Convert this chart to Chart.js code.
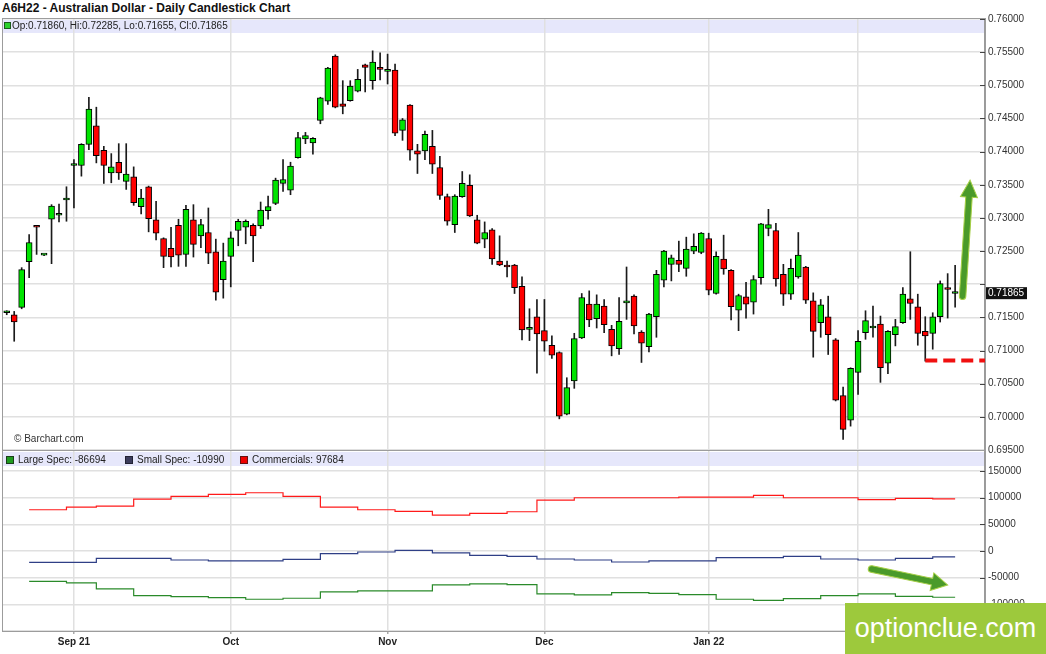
<!DOCTYPE html>
<html>
<head>
<meta charset="utf-8">
<title>A6H22 - Australian Dollar - Daily Candlestick Chart</title>
<script src="https://cdn.jsdelivr.net/npm/chart.js@4.4.1/dist/chart.umd.min.js"></script>
<style>
  html, body { margin: 0; padding: 0; background: #fff; }
  body { width: 1046px; height: 654px; position: relative; overflow: hidden; font-family: Arial, "Liberation Sans", sans-serif; }
  #title { position: absolute; left: 2px; top: 1px; font-weight: bold; font-size: 12px; color: #111; white-space: nowrap; }
  #priceChart { position: absolute; left: 0; top: 0; }
  #cotChart { position: absolute; left: 0; top: 439px; }
  #brand { position: absolute; left: 845px; top: 603px; width: 201px; height: 51px; background: #9dc93c; color: #fff; font-size: 27px; line-height: 51px; text-align: center; }
</style>
</head>
<body>
<div id="title">A6H22 - Australian Dollar - Daily Candlestick Chart</div>
<canvas id="priceChart" width="1046" height="462"></canvas>
<canvas id="cotChart" width="1046" height="215"></canvas>
<div id="brand">optionclue.com</div>
<script>
// daily candles, 19 Aug 2021 .. 18 Feb 2022 (index = trading day)
const opens = [
  0.7157, 0.7154, 0.7165, 0.7234, 0.7287, 0.7244, 0.7298, 0.7304, 0.7327, 0.7379,
  0.7379, 0.7411, 0.7439, 0.7402, 0.7368, 0.7384, 0.7355, 0.7362, 0.7317, 0.7347,
  0.7297, 0.7269, 0.7254, 0.7289, 0.7245, 0.7297, 0.7273, 0.7278, 0.7249, 0.7207,
  0.7242, 0.7281, 0.7286, 0.7289, 0.7288, 0.7311, 0.7322, 0.7352, 0.7342, 0.7391,
  0.7419, 0.7413, 0.7447, 0.7476, 0.7544, 0.7472, 0.7477, 0.7491, 0.7531, 0.7507,
  0.7527, 0.7521, 0.7523, 0.7432, 0.7470, 0.7401, 0.7401, 0.7408, 0.7376, 0.7332,
  0.7290, 0.7332, 0.7349, 0.7297, 0.7268, 0.7282, 0.7235, 0.7228, 0.7229, 0.7197,
  0.7132, 0.7151, 0.7130, 0.7108, 0.7097, 0.7004, 0.7054, 0.7119, 0.7170, 0.7148,
  0.7167, 0.7132, 0.7103, 0.7172, 0.7182, 0.7128, 0.7106, 0.7151, 0.7206, 0.7230,
  0.7236, 0.7224, 0.7250, 0.7248, 0.7269, 0.7186, 0.7238, 0.7221, 0.7161, 0.7181,
  0.7173, 0.7210, 0.7284, 0.7281, 0.7215, 0.7185, 0.7211, 0.7226, 0.7175, 0.7142,
  0.7151, 0.7116, 0.7032, 0.6995, 0.7067, 0.7127, 0.7134, 0.7140, 0.7081, 0.7124,
  0.7142, 0.7178, 0.7166, 0.7129, 0.7126, 0.7151, 0.7195, 0.71860
];
const highs = [
  0.7160, 0.7159, 0.7225, 0.7275, 0.7288, 0.7245, 0.7320, 0.7321, 0.7347, 0.7388,
  0.7412, 0.7482, 0.7467, 0.7408, 0.7397, 0.7412, 0.7412, 0.7377, 0.7343, 0.7348,
  0.7325, 0.7270, 0.7286, 0.7298, 0.7319, 0.7320, 0.7298, 0.7315, 0.7268, 0.7262,
  0.7279, 0.7298, 0.7297, 0.7291, 0.7324, 0.7333, 0.7360, 0.7388, 0.7384, 0.7429,
  0.7429, 0.7421, 0.7482, 0.7527, 0.7546, 0.7507, 0.7507, 0.7524, 0.7532, 0.7552,
  0.7549, 0.7547, 0.7532, 0.7450, 0.7471, 0.7411, 0.7431, 0.7432, 0.7393, 0.7336,
  0.7335, 0.7370, 0.7365, 0.7304, 0.7294, 0.7284, 0.7273, 0.7235, 0.7230, 0.7211,
  0.7163, 0.7177, 0.7177, 0.7122, 0.7098, 0.7059, 0.7126, 0.7186, 0.7190, 0.7184,
  0.7177, 0.7138, 0.7180, 0.7226, 0.7184, 0.7130, 0.7156, 0.7221, 0.7251, 0.7244,
  0.7265, 0.7271, 0.7276, 0.7278, 0.7277, 0.7249, 0.7274, 0.7222, 0.7185, 0.7203,
  0.7213, 0.7292, 0.7313, 0.7292, 0.7230, 0.7238, 0.7278, 0.7227, 0.7187, 0.7177,
  0.7182, 0.7118, 0.7045, 0.7074, 0.7130, 0.7160, 0.7167, 0.7152, 0.7130, 0.7147,
  0.7195, 0.7249, 0.7185, 0.7151, 0.7157, 0.7205, 0.7216, 0.72285
];
const lows = [
  0.7154, 0.7114, 0.7163, 0.7210, 0.7245, 0.7243, 0.7231, 0.7294, 0.7295, 0.7315,
  0.7363, 0.7403, 0.7383, 0.7352, 0.7353, 0.7358, 0.7343, 0.7319, 0.7306, 0.7279,
  0.7267, 0.7225, 0.7226, 0.7227, 0.7227, 0.7241, 0.7255, 0.7231, 0.7176, 0.7179,
  0.7196, 0.7258, 0.7261, 0.7234, 0.7284, 0.7298, 0.7320, 0.7340, 0.7335, 0.7390,
  0.7412, 0.7396, 0.7442, 0.7471, 0.7466, 0.7457, 0.7476, 0.7490, 0.7490, 0.7494,
  0.7508, 0.7502, 0.7424, 0.7417, 0.7387, 0.7367, 0.7388, 0.7367, 0.7328, 0.7289,
  0.7278, 0.7331, 0.7302, 0.7261, 0.7255, 0.7230, 0.7228, 0.7211, 0.7186, 0.7116,
  0.7115, 0.7066, 0.7099, 0.7088, 0.6997, 0.7003, 0.7043, 0.7118, 0.7136, 0.7134,
  0.7127, 0.7092, 0.7094, 0.7147, 0.7125, 0.7082, 0.7098, 0.7120, 0.7196, 0.7205,
  0.7219, 0.7212, 0.7246, 0.7246, 0.7184, 0.7185, 0.7215, 0.7146, 0.7130, 0.7149,
  0.7155, 0.7200, 0.7273, 0.7197, 0.7168, 0.7177, 0.7209, 0.7171, 0.7090, 0.7120,
  0.7094, 0.7024, 0.6966, 0.6986, 0.7034, 0.7117, 0.7120, 0.7052, 0.7065, 0.7107,
  0.7141, 0.7147, 0.7108, 0.7084, 0.7102, 0.7143, 0.7149, 0.71655
];
const closes = [
  0.7157, 0.7143, 0.7222, 0.7263, 0.7286, 0.7244, 0.7318, 0.7304, 0.7327, 0.7379,
  0.7411, 0.7464, 0.7394, 0.7379, 0.7377, 0.7368, 0.7366, 0.7323, 0.7330, 0.7299,
  0.7277, 0.7242, 0.7241, 0.7244, 0.7313, 0.7260, 0.7290, 0.7247, 0.7188, 0.7235,
  0.7270, 0.7295, 0.7295, 0.7273, 0.7312, 0.7317, 0.7357, 0.7358, 0.7378, 0.7421,
  0.7424, 0.7420, 0.7481, 0.7526, 0.7467, 0.7468, 0.7499, 0.7509, 0.7527, 0.7535,
  0.7524, 0.7521, 0.7428, 0.7448, 0.7402, 0.7396, 0.7426, 0.7381, 0.7334, 0.7295,
  0.7333, 0.7352, 0.7303, 0.7262, 0.7278, 0.7238, 0.7229, 0.7226, 0.7195, 0.7131,
  0.7132, 0.7125, 0.7114, 0.7093, 0.7001, 0.7044, 0.7118, 0.7180, 0.7146, 0.7170,
  0.7139, 0.7107, 0.7144, 0.7172, 0.7137, 0.7111, 0.7155, 0.7215, 0.7250, 0.7240,
  0.7230, 0.7253, 0.7257, 0.7277, 0.7191, 0.7242, 0.7223, 0.7166, 0.7183, 0.7170,
  0.7207, 0.7291, 0.7290, 0.7208, 0.7185, 0.7224, 0.7244, 0.7176, 0.7129, 0.7169,
  0.7124, 0.7025, 0.6981, 0.7073, 0.7114, 0.7145, 0.7134, 0.7074, 0.7129, 0.7136,
  0.7185, 0.7171, 0.7126, 0.7122, 0.7151, 0.7201, 0.7192, 0.71865
];

// month starts (candle index) and their labels
const monthIdx = [9, 30, 51, 72, 94, 114];
const monthLabels = ["Sep 21", "Oct", "Nov", "Dec", "Jan 22", "Feb"];

const priceTicks = [0.695, 0.700, 0.705, 0.710, 0.715, 0.720, 0.725, 0.730, 0.735, 0.740, 0.745, 0.750, 0.755, 0.760];
const cotTicks = [-150000, -100000, -50000, 0, 50000, 100000, 150000];

// weekly COT positions, value holds from that candle index on
const cotIdx = [3, 8, 12, 17, 22, 27, 32, 37, 42, 47, 52, 57, 62, 67, 71, 76, 81, 86, 90, 95, 100, 104, 109, 114, 119, 124, 127];
const largeSpec = [-56800, -59900, -71200, -83700, -85600, -87500, -90500, -88600, -76800, -74900, -74900, -63700, -61800, -63000,
  -80500, -82400, -78100, -79300, -81800, -90500, -92400, -89300, -83700, -80500, -84900, -86694, -86694];
const smallSpec = [-21200, -21200, -13700, -13700, -16900, -18700, -18700, -15600, -5000, -1900, 1300, -3700, -8100, -10000,
  -15000, -16900, -20600, -18700, -18700, -12500, -12500, -10000, -15000, -16900, -13700, -10990, -10990];
const commercials = [77350, 82400, 84300, 97400, 102500, 106200, 109200, 102500, 82400, 77350, 74350, 67400, 70600, 73600,
  95500, 99800, 99800, 99800, 101100, 101100, 104300, 99800, 99800, 96500, 98500, 97684, 97684];

// hand drawn marks on the picture
const supportLevel = 0.7085, supportFrom = 123;
const upArrow = { from: [128, 0.7182], to: [129, 0.7357] };
const cotArrow = { from: [115.8, -33700], to: [126, -63700] };

const UP = "#00e400", DOWN = "#ff0000", BAND = "#e6e7fb", GRID = "#e0e0e0";
const FONT = 'Arial, "Liberation Sans", sans-serif';
const X_MIN = -0.5, X_MAX = 131;

Chart.defaults.font.family = FONT;
Chart.defaults.font.size = 10;
Chart.defaults.color = "#333";

function drawArrow(ctx, x1, y1, x2, y2, shaft, headW, headL) {
  const ang = Math.atan2(y2 - y1, x2 - x1);
  const len = Math.hypot(x2 - x1, y2 - y1);
  ctx.save();
  ctx.translate(x1, y1);
  ctx.rotate(ang);
  ctx.beginPath();
  ctx.moveTo(0, -shaft / 2);
  ctx.lineTo(len - headL, -shaft / 2);
  ctx.lineTo(len - headL, -headW / 2);
  ctx.lineTo(len, 0);
  ctx.lineTo(len - headL, headW / 2);
  ctx.lineTo(len - headL, shaft / 2);
  ctx.lineTo(0, shaft / 2);
  ctx.arc(0, 0, shaft / 2, Math.PI / 2, Math.PI * 1.5);
  ctx.closePath();
  ctx.fillStyle = "#4a9a2a";
  ctx.fill();
  ctx.strokeStyle = "#a6cf45";
  ctx.lineWidth = 1;
  ctx.stroke();
  ctx.restore();
}

function tickDashes(ctx, a, scale) {
  ctx.strokeStyle = "#444";
  ctx.lineWidth = 1;
  ctx.beginPath();
  scale.ticks.forEach(t => {
    const py = Math.round(scale.getPixelForValue(t.value)) + 0.5;
    ctx.moveTo(a.right - 5, py);
    ctx.lineTo(a.right, py);
  });
  ctx.stroke();
}

function panelBorder(ctx, a) {
  ctx.strokeStyle = "#9c9c9c";
  ctx.lineWidth = 1;
  ctx.strokeRect(a.left - 0.5, a.top - 0.5, a.right - a.left + 1, a.bottom - a.top + 1);
}

const pricePanel = {
  id: "pricePanel",
  beforeDraw(chart) {
    const { ctx, chartArea: a } = chart;
    ctx.save();
    ctx.fillStyle = BAND;
    ctx.fillRect(a.left, a.top + 1, a.right - a.left, 13);
    ctx.restore();
  },
  afterDraw(chart) {
    const { ctx, chartArea: a, scales: { x, y } } = chart;
    const last = closes.length - 1;
    ctx.save();
    panelBorder(ctx, a);
    tickDashes(ctx, a, y);

    // legend line in the band
    ctx.fillStyle = "#2bd12b";
    ctx.fillRect(a.left + 2, a.top + 4, 5, 5);
    ctx.strokeStyle = "#1c5a1c";
    ctx.strokeRect(a.left + 1.5, a.top + 3.5, 6, 6);
    ctx.font = "10px " + FONT;
    ctx.fillStyle = "#222";
    ctx.textAlign = "left";
    ctx.textBaseline = "middle";
    ctx.fillText("Op:" + opens[last].toFixed(5) + ", Hi:" + highs[last].toFixed(5) +
      ", Lo:" + lows[last].toFixed(5) + ", Cl:" + closes[last].toFixed(5), a.left + 9, a.top + 7.5);

    ctx.fillStyle = "#333";
    ctx.fillText("\u00a9 Barchart.com", a.left + 11, a.bottom - 11);

    // support line
    const sy = y.getPixelForValue(supportLevel);
    ctx.strokeStyle = "#f01010";
    ctx.lineWidth = 4;
    ctx.setLineDash([12, 6]);
    ctx.beginPath();
    ctx.moveTo(x.getPixelForValue(supportFrom), sy);
    ctx.lineTo(a.right, sy);
    ctx.stroke();
    ctx.setLineDash([]);

    drawArrow(ctx,
      x.getPixelForValue(upArrow.from[0]), y.getPixelForValue(upArrow.from[1]),
      x.getPixelForValue(upArrow.to[0]), y.getPixelForValue(upArrow.to[1]), 6.5, 17, 17);

    // last price tag
    const py = y.getPixelForValue(closes[last]);
    ctx.fillStyle = "#111";
    ctx.fillRect(a.right + 1, py - 6, 41, 12);
    ctx.fillStyle = "#fff";
    ctx.fillText(closes[last].toFixed(5), a.right + 3, py);
    ctx.restore();
  }
};

const cotPanel = {
  id: "cotPanel",
  beforeDraw(chart) {
    const { ctx, chartArea: a } = chart;
    ctx.save();
    ctx.fillStyle = BAND;
    ctx.fillRect(a.left, a.top + 1, a.right - a.left, 14);
    ctx.restore();
  },
  afterDraw(chart) {
    const { ctx, chartArea: a, scales: { x, y } } = chart;
    const last = cotIdx.length - 1;
    ctx.save();
    panelBorder(ctx, a);
    tickDashes(ctx, a, y);

    const items = [
      { text: "Large Spec: " + largeSpec[last], fill: "#1f9a1f", edge: "#1b3d1b", left: 4 },
      { text: "Small Spec: " + smallSpec[last], fill: "#3c3c5c", edge: "#222233", left: 123 },
      { text: "Commercials: " + commercials[last], fill: "#ee0000", edge: "#661111", left: 238 }
    ];
    ctx.font = "10px " + FONT;
    ctx.textAlign = "left";
    ctx.textBaseline = "middle";
    items.forEach(it => {
      ctx.fillStyle = it.fill;
      ctx.fillRect(a.left + it.left, a.top + 6, 6, 6);
      ctx.strokeStyle = it.edge;
      ctx.lineWidth = 1;
      ctx.strokeRect(a.left + it.left - 0.5, a.top + 5.5, 7, 7);
      ctx.fillStyle = "#222";
      ctx.fillText(it.text, a.left + it.left + 11, a.top + 9);
    });

    drawArrow(ctx,
      x.getPixelForValue(cotArrow.from[0]), y.getPixelForValue(cotArrow.from[1]),
      x.getPixelForValue(cotArrow.to[0]), y.getPixelForValue(cotArrow.to[1]), 6.5, 18, 16);
    ctx.restore();
  }
};

const candleIdx = closes.map((_, i) => i);
const bodyColors = closes.map((c, i) => (c >= opens[i] ? UP : DOWN));

new Chart(document.getElementById("priceChart"), {
  type: "bar",
  data: {
    datasets: [
      {
        label: "Body",
        data: candleIdx.map(i => ({ x: i, y: [opens[i], closes[i]] })),
        backgroundColor: bodyColors,
        borderColor: "#000",
        borderWidth: 1,
        borderSkipped: false,
        barThickness: 6,
        minBarLength: 2,
        grouped: false,
        order: 1
      },
      {
        label: "Range",
        data: candleIdx.map(i => ({ x: i, y: [lows[i], highs[i]] })),
        backgroundColor: "#1a1a1a",
        barThickness: 1,
        grouped: false,
        order: 2
      }
    ]
  },
  options: {
    responsive: false,
    animation: false,
    layout: { padding: { left: 3, right: 0, top: 19, bottom: 12 } },
    plugins: { legend: { display: false }, tooltip: { enabled: false } },
    scales: {
      x: {
        type: "linear",
        min: X_MIN,
        max: X_MAX,
        offset: false,
        afterBuildTicks: s => { s.ticks = monthIdx.map(v => ({ value: v })); },
        ticks: { display: false },
        grid: { color: GRID, lineWidth: 1.5, drawTicks: false, offset: false },
        border: { display: false }
      },
      y: {
        position: "right",
        min: 0.695,
        max: 0.76,
        afterBuildTicks: s => { s.ticks = priceTicks.map(v => ({ value: v })); },
        afterFit: s => { s.width = 61; },
        ticks: {
          padding: 3,
          color: "#333",
          font: { size: 10 },
          callback: v => (Math.abs(v - 0.72) < 1e-7 ? "" : v.toFixed(5))
        },
        grid: { color: GRID, lineWidth: 1.5, drawTicks: false },
        border: { display: true, color: "#9a9a9a", width: 1.5 }
      }
    }
  },
  plugins: [pricePanel]
});

const cotLine = vals => cotIdx.map((v, i) => ({ x: v, y: vals[i] }));

new Chart(document.getElementById("cotChart"), {
  type: "line",
  data: {
    datasets: [
      { label: "Commercials", data: cotLine(commercials), borderColor: "#ff1a1a", borderWidth: 1.2, pointRadius: 0, stepped: "before", fill: false },
      { label: "Small Spec", data: cotLine(smallSpec), borderColor: "#2f3f86", borderWidth: 1.2, pointRadius: 0, stepped: "before", fill: false },
      { label: "Large Spec", data: cotLine(largeSpec), borderColor: "#2a8a2a", borderWidth: 1.2, pointRadius: 0, stepped: "before", fill: false }
    ]
  },
  options: {
    responsive: false,
    animation: false,
    layout: { padding: { left: 3, right: 0, top: 12, bottom: 0 } },
    plugins: { legend: { display: false }, tooltip: { enabled: false } },
    scales: {
      x: {
        type: "linear",
        min: X_MIN,
        max: X_MAX,
        afterBuildTicks: s => { s.ticks = monthIdx.map(v => ({ value: v })); },
        afterFit: s => { s.height = 23; },
        ticks: {
          autoSkip: false,
          maxRotation: 0,
          padding: 2,
          color: "#222",
          font: { size: 10, weight: "bold" },
          callback: (v, i) => monthLabels[i]
        },
        grid: { color: GRID, lineWidth: 1.5, tickLength: 3, tickColor: "#aaa" },
        border: { display: false }
      },
      y: {
        position: "right",
        min: -150000,
        max: 187500,
        afterBuildTicks: s => { s.ticks = cotTicks.map(v => ({ value: v })); },
        afterFit: s => { s.width = 61; },
        ticks: { padding: 3, color: "#333", font: { size: 10 }, callback: v => String(v) },
        grid: { color: GRID, lineWidth: 1.5, drawTicks: false },
        border: { display: true, color: "#9a9a9a", width: 1.5 }
      }
    }
  },
  plugins: [cotPanel]
});
</script>
</body>
</html>
